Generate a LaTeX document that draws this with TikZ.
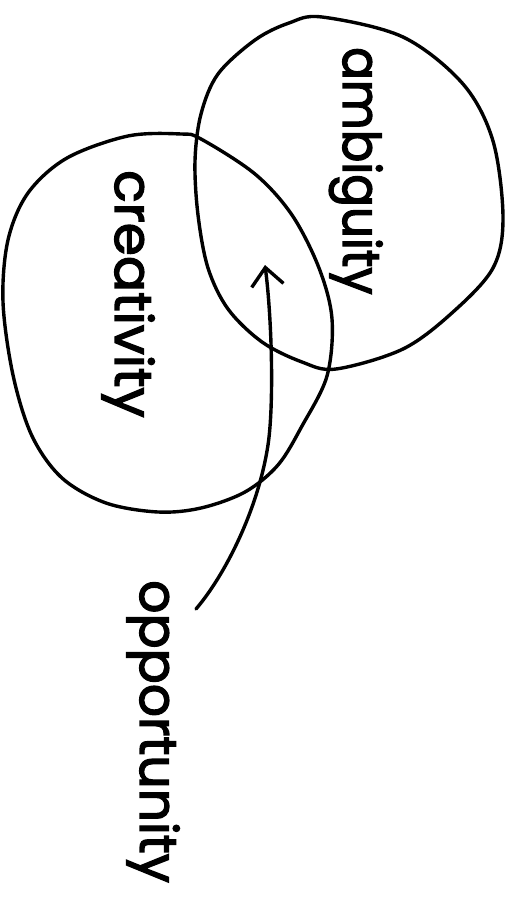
\documentclass[tikz,border=0pt]{standalone}
\usepackage{fontspec}
\setmainfont{Poppins}[FakeBold=2.5]
\usetikzlibrary{arrows.meta}
\begin{document}
\begin{tikzpicture}[x=1pt,y=-1pt,
  pen/.style={line width=3.4pt, line cap=round, line join=round, black},
  lbl/.style={rotate=-90, anchor=base west, inner sep=0pt, font=\fontsize{52}{52}\selectfont}]
\useasboundingbox (0,0) rectangle (510,899);
% ambiguity blob
\draw[pen] plot[smooth cycle, tension=0.55] coordinates {
 (322,17) (403,37) (463,84) (493,141) (503,218) (493,268) (453,312) (403,349)
 (336,369) (302,362) (262,342) (228,309) (208,268) (198,215) (195,161) (201,114)
 (218,74) (255,40) (289,23)};
% creativity blob
\draw[pen] plot[smooth cycle, tension=0.55] coordinates {
 (181,134) (201,139) (255,174) (292,215) (319,268) (332,319) (327,376) (302,426)
 (278,465) (245,492) (201,508) (158,512) (106,503) (62,478) (32,436) (13,375)
 (3,302) (8,240) (28,193) (67,158) (128,136)};
% labels
\node[lbl, xscale=0.93] (amb) at (343,47) {ambiguity};
\node[lbl, xscale=1.03] (cre) at (115,170) {creativity};
\node[lbl] (opp) at (140,580) {opportunity};
% arrow
\coordinate (arrStart) at (196,609);
\coordinate (arrMid) at (268,445);
\coordinate (arrTip) at (265,265);
\draw[pen, -{Straight Barb[length=18pt, width=32pt]}] (arrStart)
  .. controls (225,575) and (258,510) .. (arrMid)
  .. controls (274,405) and (272,320) .. (arrTip);
\end{tikzpicture}
\end{document}
